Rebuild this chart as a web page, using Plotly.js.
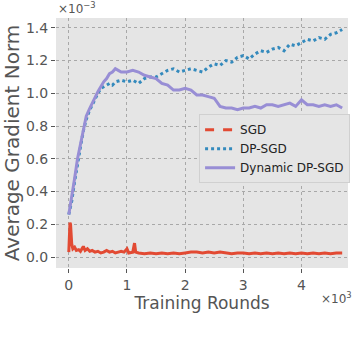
<!DOCTYPE html>
<html>
<head>
<meta charset="utf-8">
<script src="https://cdn.plot.ly/plotly-3.0.1.min.js"></script>
<style>
  body { margin: 0; background: #fff; }
  #plot { width: 356px; height: 344px; }
</style>
</head>
<body>
<div id="plot"></div>
<script>
// values, y in units of 1e-3
var sgdX = [0, 10, 20, 30, 40, 50, 70, 100, 130, 170, 200, 250, 280, 320, 360, 400, 450, 500, 550, 600, 650, 700, 750, 800, 850, 900, 950, 1000, 1030, 1070, 1100, 1130, 1150, 1200, 1300, 1400, 1500, 1600, 1700, 1800, 1900, 2000, 2100, 2200, 2300, 2400, 2500, 2600, 2700, 2800, 2900, 3000, 3100, 3200, 3300, 3400, 3500, 3600, 3700, 3800, 3900, 4000, 4100, 4200, 4300, 4400, 4500, 4600, 4700];
var sgdY = [0.03, 0.12, 0.21, 0.20, 0.14, 0.08, 0.05, 0.06, 0.04, 0.045, 0.035, 0.065, 0.04, 0.05, 0.035, 0.04, 0.03, 0.035, 0.025, 0.03, 0.04, 0.03, 0.035, 0.025, 0.03, 0.035, 0.03, 0.05, 0.025, 0.03, 0.03, 0.085, 0.03, 0.025, 0.02, 0.025, 0.02, 0.025, 0.02, 0.025, 0.02, 0.025, 0.03, 0.03, 0.025, 0.03, 0.025, 0.03, 0.025, 0.02, 0.025, 0.025, 0.02, 0.025, 0.02, 0.025, 0.02, 0.025, 0.02, 0.025, 0.02, 0.025, 0.02, 0.025, 0.02, 0.025, 0.02, 0.025, 0.025];

var dpX = [0, 50, 100, 150, 200, 250, 300, 350, 400, 450, 500, 550, 600, 650, 700, 750, 800, 900, 1000, 1100, 1200, 1300, 1400, 1500, 1600, 1700, 1800, 1900, 2000, 2100, 2200, 2300, 2400, 2500, 2600, 2700, 2800, 2900, 3000, 3100, 3200, 3300, 3400, 3500, 3600, 3700, 3800, 3900, 4000, 4100, 4200, 4300, 4400, 4500, 4600, 4700];
var dpY = [0.26, 0.34, 0.46, 0.58, 0.67, 0.77, 0.84, 0.89, 0.93, 0.97, 1.00, 1.03, 1.04, 1.05, 1.06, 1.05, 1.07, 1.08, 1.07, 1.08, 1.06, 1.09, 1.10, 1.10, 1.12, 1.14, 1.15, 1.13, 1.14, 1.15, 1.14, 1.13, 1.16, 1.18, 1.17, 1.20, 1.19, 1.22, 1.23, 1.21, 1.24, 1.26, 1.25, 1.27, 1.28, 1.26, 1.30, 1.29, 1.31, 1.33, 1.32, 1.34, 1.33, 1.36, 1.37, 1.39];

var dynX = [0, 50, 100, 150, 200, 250, 300, 350, 400, 450, 500, 550, 600, 650, 700, 750, 800, 850, 900, 1000, 1100, 1200, 1300, 1400, 1500, 1600, 1700, 1800, 1900, 2000, 2100, 2200, 2300, 2400, 2500, 2600, 2700, 2800, 2900, 3000, 3100, 3200, 3300, 3400, 3500, 3600, 3700, 3800, 3900, 4000, 4100, 4200, 4300, 4400, 4500, 4600, 4700];
var dynY = [0.26, 0.36, 0.48, 0.60, 0.69, 0.79, 0.86, 0.90, 0.94, 0.98, 1.01, 1.04, 1.07, 1.09, 1.12, 1.13, 1.15, 1.14, 1.13, 1.13, 1.14, 1.13, 1.11, 1.10, 1.09, 1.06, 1.05, 1.02, 1.02, 1.03, 1.02, 0.99, 0.99, 0.98, 0.97, 0.92, 0.91, 0.91, 0.90, 0.91, 0.91, 0.92, 0.91, 0.93, 0.93, 0.92, 0.93, 0.94, 0.92, 0.96, 0.93, 0.93, 0.92, 0.93, 0.92, 0.93, 0.91];

var xTicks = [0, 1000, 2000, 3000, 4000];
var xTickText = ["0", "1", "2", "3", "4"];
var yTicks = [0, 0.2, 0.4, 0.6, 0.8, 1.0, 1.2, 1.4];

var tickFont = {family: "DejaVu Sans", size: 14, color: "#555555"};

var data = [
    // SGD curve: noisy enough that the dashes read as a solid band
    {
        x: sgdX, y: sgdY, name: "SGD", type: "scatter", mode: "lines",
        showlegend: false,
        line: {color: "#E24A33", width: 3}
    },
    // legend-only entry so the key shows the dashes
    {
        x: [null], y: [null], name: "SGD", type: "scatter", mode: "lines",
        line: {color: "#E24A33", width: 3, dash: "dash"}
    },
    {
        x: dpX, y: dpY, name: "DP-SGD", type: "scatter", mode: "lines",
        line: {color: "#348ABD", width: 3, dash: "dot"}
    },
    {
        x: dynX, y: dynY, name: "Dynamic DP-SGD", type: "scatter", mode: "lines",
        line: {color: "#988ED5", width: 3}
    }
];

var layout = {
    width: 356,
    height: 344,
    paper_bgcolor: "#ffffff",
    plot_bgcolor: "#E5E5E5",
    margin: {l: 56, r: 6, t: 18, b: 76},
    font: {family: "DejaVu Sans", color: "#555555"},
    showlegend: true,
    legend: {
        x: 0.49, y: 0.615, xanchor: "left", yanchor: "top",
        bgcolor: "#E5E5E5", bordercolor: "#d0d0d0", borderwidth: 1,
        font: {family: "DejaVu Sans", size: 12, color: "#222222"},
        itemwidth: 30,
        tracegroupgap: 0
    },
    xaxis: {
        range: [-220, 4800],
        tickvals: xTicks,
        ticktext: xTickText,
        tickfont: tickFont,
        ticks: "outside", ticklen: 4, tickcolor: "#555555",
        showgrid: true, gridcolor: "#a8a8a8", griddash: "dot", gridwidth: 1,
        zeroline: false, showline: false,
        title: {text: "Training Rounds", font: {family: "DejaVu Sans", size: 17, color: "#555555"}, standoff: 2}
    },
    yaxis: {
        range: [-0.067, 1.46],
        tickvals: yTicks,
        tickformat: ".1f",
        tickfont: tickFont,
        ticks: "outside", ticklen: 4, tickcolor: "#555555",
        showgrid: true, gridcolor: "#a8a8a8", griddash: "dot", gridwidth: 1,
        zeroline: false, showline: false,
        title: {text: "Average Gradient Norm", font: {family: "DejaVu Sans", size: 20, color: "#555555"}, standoff: 4}
    },
    annotations: [
        {
            text: "×10<sup>−3</sup>", xref: "paper", yref: "paper",
            x: 0, y: 1, xanchor: "left", yanchor: "bottom", showarrow: false,
            font: {family: "DejaVu Sans", size: 12, color: "#555555"}
        },
        {
            text: "×10<sup>3</sup>", xref: "paper", yref: "paper",
            x: 1.02, y: -0.08, xanchor: "right", yanchor: "top", showarrow: false,
            font: {family: "DejaVu Sans", size: 12, color: "#555555"}
        }
    ]
};

Plotly.newPlot("plot", data, layout, {displayModeBar: false});
</script>
</body>
</html>
